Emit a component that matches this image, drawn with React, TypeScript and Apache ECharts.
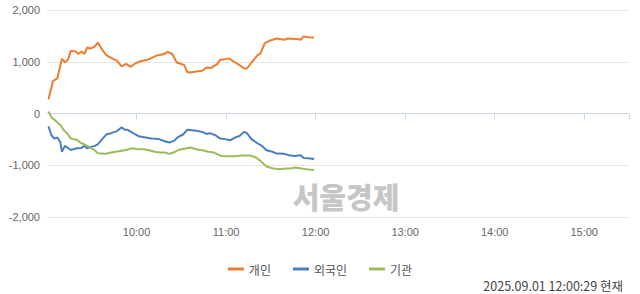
import React, { useEffect, useRef } from "react";
import * as echarts from "echarts";

// minutes after 09:00
const personalTimes = [1,4,7,10,12,14,16,19,21,23,25,27,29,32,34,37,40,43,47,50,53,56,59,63,67,70,73,78,81,84,87,89,92,94,97,100,104,107,110,114,116,122,125,128,132,134,137,141,143,146,149,154,159,161,169,170,172,175,179];
const personalValues = [270,630,680,1060,990,1040,1210,1205,1150,1200,1150,1275,1255,1295,1370,1230,1125,1075,1015,910,960,900,965,1015,1035,1070,1115,1145,1190,1145,985,965,935,795,795,810,825,890,880,955,1035,1065,1005,955,875,870,985,1125,1160,1360,1405,1450,1425,1450,1435,1425,1490,1475,1470];

const foreignTimes = [1,3,5,7,9,10,12,16,20,23,25,27,30,32,34,37,40,43,47,50,52,54,58,62,66,70,75,79,82,85,88,91,94,97,100,104,107,109,113,116,119,123,126,129,132,134,137,141,144,147,151,154,159,162,166,170,172,175,179];
const foreignValues = [-250,-420,-485,-465,-560,-740,-625,-705,-670,-665,-625,-675,-640,-625,-595,-495,-400,-380,-340,-265,-315,-315,-385,-445,-465,-485,-495,-535,-560,-530,-450,-410,-315,-325,-335,-355,-395,-380,-420,-485,-495,-515,-465,-435,-355,-380,-495,-575,-625,-710,-740,-775,-780,-805,-820,-805,-860,-865,-880];

const instTimes = [1,3,6,9,11,14,16,20,23,25,29,32,34,39,43,48,53,57,60,65,69,72,76,79,82,86,88,91,93,96,100,105,108,112,115,117,122,126,131,136,140,143,147,151,155,160,163,166,171,175,179];
const instValues = [40,-75,-145,-225,-315,-400,-485,-510,-575,-595,-660,-710,-770,-780,-755,-730,-705,-670,-685,-690,-715,-740,-755,-755,-780,-740,-705,-685,-677,-658,-690,-715,-740,-755,-800,-820,-825,-825,-810,-810,-850,-915,-1025,-1058,-1075,-1065,-1065,-1045,-1065,-1083,-1090];

const seriesNames = ["개인", "외국인", "기관"];
const seriesColors = ["#ED7D31", "#4A7EC2", "#9BBB59"];
const timestamp = "2025.09.01 12:00:29 현재";
const watermark = "서울경제";

const pairs = (t: number[], v: number[]) => t.map((x, i) => [x, v[i]]);

export default function App() {
  const ref = useRef<HTMLDivElement>(null);
  useEffect(() => {
    document.body.style.margin = "0";
    const chart = echarts.init(ref.current!, null, { renderer: "svg" });
    const font = "'Liberation Sans', Arial, 'Noto Sans CJK KR', sans-serif";
    const data = [
      pairs(personalTimes, personalValues),
      pairs(foreignTimes, foreignValues),
      pairs(instTimes, instValues),
    ];
    chart.setOption({
      animation: false,
      textStyle: { fontFamily: font },
      grid: { left: 47, right: 11, top: 10, bottom: 77 },
      legend: {
        data: seriesNames,
        left: "center",
        top: 258,
        icon: "rect",
        itemWidth: 16,
        itemHeight: 3,
        itemGap: 22,
        textStyle: { color: "#555", fontSize: 12, fontFamily: "'Noto Sans CJK KR', sans-serif" },
      },
      xAxis: {
        type: "value",
        min: 0,
        max: 390,
        interval: 60,
        axisLine: { show: true, lineStyle: { color: "#ccd6eb", width: 1 } },
        axisTick: { show: true, length: 6, lineStyle: { color: "#ccd6eb" } },
        splitLine: { show: false },
        axisLabel: {
          color: "#666",
          fontSize: 11,
          margin: 9,
          showMinLabel: false,
          formatter: (v: number) => (v === 0 || v % 60 !== 0 ? "" : `${9 + v / 60}:00`),
        },
      },
      yAxis: {
        type: "value",
        min: -2000,
        max: 2000,
        interval: 1000,
        axisLine: { show: false },
        axisTick: { show: false },
        splitLine: { lineStyle: { color: "#e6e6e6" } },
        axisLabel: {
          color: "#666",
          fontSize: 11,
          margin: 7,
          formatter: (v: number) => v.toLocaleString("en-US"),
        },
      },
      graphic: [
        {
          type: "text",
          x: 346,
          y: 196,
          z: 0,
          style: {
            text: watermark,
            fill: "#c6c6c6",
            font: "900 29px 'Noto Sans CJK KR', sans-serif",
            align: "center",
            verticalAlign: "middle",
          },
        },
        {
          type: "text",
          x: 623,
          y: 285,
          style: {
            text: timestamp,
            fill: "#444",
            font: "12.5px 'Noto Sans CJK KR', sans-serif",
            align: "right",
            verticalAlign: "middle",
          },
        },
      ],
      series: seriesNames.map((name, i) => ({
        name,
        type: "line",
        data: data[i],
        showSymbol: false,
        symbol: "none",
        color: seriesColors[i],
        lineStyle: { width: 2, color: seriesColors[i] },
        z: 3,
      })),
    });
    return () => chart.dispose();
  }, []);
  return <div ref={ref} style={{ width: 640, height: 294 }} />;
}
